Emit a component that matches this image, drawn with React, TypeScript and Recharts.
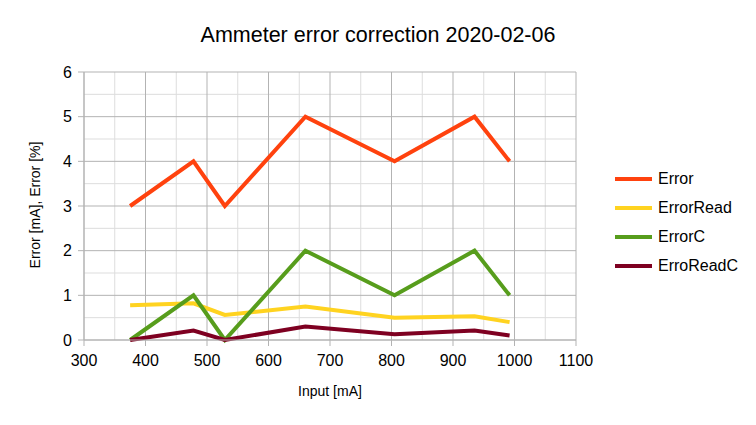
import { LineChart, Line, XAxis, YAxis, CartesianGrid } from 'recharts';

const inputs = [375, 478, 529, 660, 805, 935, 992];
const errorValues = [3, 4, 3, 5, 4, 5, 4];
const errorReadValues = [0.78, 0.82, 0.56, 0.75, 0.5, 0.53, 0.4];
const errorCValues = [0, 1, 0, 2, 1, 2, 1];
const erroReadCValues = [0, 0.21, 0, 0.3, 0.13, 0.21, 0.1];

const xTicks = [300, 400, 500, 600, 700, 800, 900, 1000, 1100];
const xMinor = [350, 450, 550, 650, 750, 850, 950, 1050];
const yTicks = [0, 1, 2, 3, 4, 5, 6];
const yMinor = [0.5, 1.5, 2.5, 3.5, 4.5, 5.5];

const series = [
  { key: 'Error', color: '#ff420e' },
  { key: 'ErrorRead', color: '#ffd320' },
  { key: 'ErrorC', color: '#579d1c' },
  { key: 'ErroReadC', color: '#7e0021' },
];

const data = inputs.map((x, i) => ({
  x,
  Error: errorValues[i],
  ErrorRead: errorReadValues[i],
  ErrorC: errorCValues[i],
  ErroReadC: erroReadCValues[i],
}));

const font = '"Liberation Sans", Arial, sans-serif';

const mapX = (props: any, vals: number[]) => {
  const s = props?.xAxis?.scale;
  if (typeof s === 'function') return vals.map((v) => s(v));
  const o = props.offset;
  return vals.map((v) => o.left + ((v - 300) / 800) * o.width);
};

const mapY = (props: any, vals: number[]) => {
  const s = props?.yAxis?.scale;
  if (typeof s === 'function') return vals.map((v) => s(v));
  const o = props.offset;
  return vals.map((v) => o.top + o.height - (v / 6) * o.height);
};

export default function App() {
  return (
    <div style={{ position: 'absolute', left: 0, top: 0, width: 756, height: 425, background: '#fff', fontFamily: font }}>
      <div style={{ position: 'absolute', left: 0, width: 756, top: 23, textAlign: 'center', fontSize: 21.5, color: '#000' }}>
        Ammeter error correction 2020-02-06
      </div>
      <LineChart width={756} height={425} data={data} margin={{ top: 72, right: 180, bottom: 35, left: 0 }}>
        <CartesianGrid
          stroke="#dddddd"
          verticalCoordinatesGenerator={(p: any) => mapX(p, xMinor)}
          horizontalCoordinatesGenerator={(p: any) => mapY(p, yMinor)}
        />
        <CartesianGrid
          stroke="#b3b3b3"
          verticalCoordinatesGenerator={(p: any) => mapX(p, xTicks)}
          horizontalCoordinatesGenerator={(p: any) => mapY(p, yTicks)}
        />
        <XAxis
          dataKey="x"
          type="number"
          domain={[300, 1100]}
          ticks={xTicks}
          height={50}
          stroke="#b3b3b3"
          tickSize={6}
          tickMargin={9}
          tick={{ fill: '#000', fontSize: 16, fontFamily: font }}
        />
        <YAxis
          type="number"
          domain={[0, 6]}
          ticks={yTicks}
          width={84}
          stroke="#b3b3b3"
          tickSize={6}
          tickMargin={6}
          tick={{ fill: '#000', fontSize: 16, fontFamily: font }}
        />
        {series.map((s) => (
          <Line
            key={s.key}
            dataKey={s.key}
            stroke={s.color}
            strokeWidth={4}
            dot={false}
            activeDot={false}
            isAnimationActive={false}
            strokeLinejoin="miter"
          />
        ))}
      </LineChart>
      <div style={{ position: 'absolute', left: 615, top: 164, fontSize: 16, color: '#000' }}>
        {series.map((s) => (
          <div key={s.key} style={{ display: 'flex', alignItems: 'center', height: 29 }}>
            <div style={{ width: 37, height: 4, background: s.color, marginRight: 6 }} />
            <span>{s.key}</span>
          </div>
        ))}
      </div>
      <div style={{ position: 'absolute', left: 84, width: 492, top: 383, textAlign: 'center', fontSize: 14, color: '#000' }}>
        Input [mA]
      </div>
      <div
        style={{
          position: 'absolute',
          left: 35,
          top: 205,
          transform: 'translate(-50%, -50%) rotate(-90deg)',
          whiteSpace: 'nowrap',
          fontSize: 14,
          color: '#000',
        }}
      >
        Error [mA], Error [%]
      </div>
    </div>
  );
}
